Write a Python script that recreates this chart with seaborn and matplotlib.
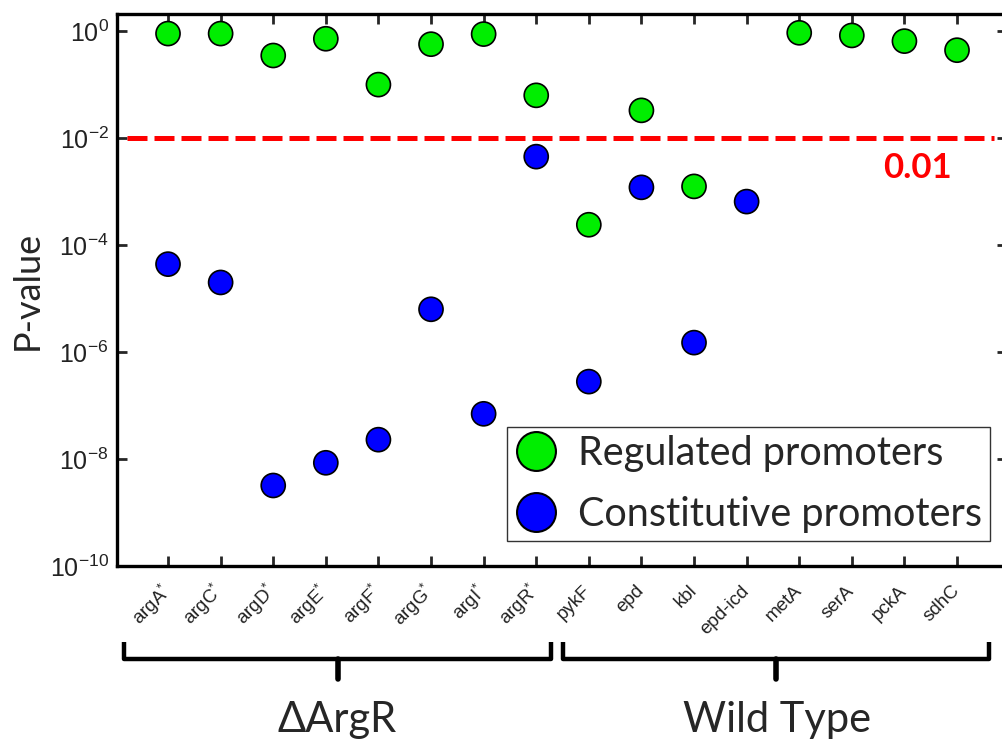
import numpy as np
import pandas as pd
import matplotlib
matplotlib.use("Agg")
import matplotlib.pyplot as plt
from matplotlib.lines import Line2D
from matplotlib.ticker import FixedLocator, FuncFormatter
import seaborn as sns

# Promoters (ΔArgR strain first, then wild type)
promoters = ["argA*", "argC*", "argD*", "argE*", "argF*", "argG*", "argI*", "argR*",
             "pykF", "epd", "kbl", "epd-icd", "metA", "serA", "pckA", "sdhC"]
tick_labels = ["argA$^{*}$", "argC$^{*}$", "argD$^{*}$", "argE$^{*}$", "argF$^{*}$",
               "argG$^{*}$", "argI$^{*}$", "argR$^{*}$",
               "pykF", "epd", "kbl", "epd-icd", "metA", "serA", "pckA", "sdhC"]

# P-values per promoter (nan = not measured)
regulated_p = [0.9, 0.9, 0.35, 0.72, 0.1, 0.57, 0.88, 0.063,
               2.4e-4, 0.033, 1.25e-3, np.nan, 0.93, 0.83, 0.65, 0.44]
constitutive_p = [4.4e-5, 2.0e-5, 3.2e-9, 8.5e-9, 2.3e-8, 6.3e-6, 7.0e-8, 4.5e-3,
                  2.8e-7, 1.2e-3, 1.5e-6, 6.5e-4, np.nan, np.nan, np.nan, np.nan]

threshold = 0.01
groups = ["ΔArgR", "Wild Type"]
series_names = ["Regulated promoters", "Constitutive promoters"]
series_colors = ["#00ee00", "#0000ff"]

sns.set_style("white")
plt.rcParams["font.family"] = ["Liberation Sans", "DejaVu Sans"]
plt.rcParams["mathtext.fontset"] = "custom"
plt.rcParams["mathtext.rm"] = "Liberation Sans"
plt.rcParams["mathtext.it"] = "Liberation Sans"
plt.rcParams["mathtext.default"] = "regular"

df = pd.DataFrame({
    "promoter": promoters * 2,
    "pos": list(range(len(promoters))) * 2,
    "p": regulated_p + constitutive_p,
    "kind": [series_names[0]] * len(promoters) + [series_names[1]] * len(promoters),
}).dropna()

W, H = 1002, 744
fig = plt.figure(figsize=(W / 100, H / 100), dpi=100)
ax = fig.add_axes([117 / W, 1 - 566 / H, (1007 - 117) / W, (566 - 14) / H])

sns.scatterplot(data=df, x="pos", y="p", hue="kind", palette=series_colors,
                hue_order=series_names, s=300, edgecolor="black", linewidth=1.2,
                legend=False, ax=ax, zorder=3)

ax.set_yscale("log")
ax.set_ylim(1e-10, 10 ** 0.32)
ax.set_xlim(-0.97, 15.95)

# threshold line
ax.axhline(threshold, xmin=0.011, xmax=0.985, color="#ff0000", lw=3.6,
           linestyle=(0, (4, 1.4)), dash_capstyle="butt", zorder=2)
ax.text(917 / W, 1 - 168 / H, "0.01", transform=fig.transFigure, color="#ff0000",
        fontsize=25, fontweight="bold", ha="center", va="center",
        family=["Lato", "DejaVu Sans"])

# axes frame and ticks
for side in ["left", "top", "bottom", "right"]:
    ax.spines[side].set_visible(True)
    ax.spines[side].set_color("black")
    ax.spines[side].set_linewidth(2.4)
ax.yaxis.set_major_locator(FixedLocator([1e-10, 1e-8, 1e-6, 1e-4, 1e-2, 1e0]))
ax.yaxis.set_minor_locator(FixedLocator([]))
ax.yaxis.set_major_formatter(FuncFormatter(lambda v, _: r"$10^{%d}$" % round(np.log10(v))))
ax.set_xticks(range(len(promoters)))
ax.set_xticklabels(tick_labels, rotation=45, ha="right", va="center",
                   rotation_mode="anchor", fontsize=13.5, color="#222222")
ax.tick_params(axis="x", direction="in", length=7, width=2, top=True, bottom=True, pad=16)
ax.tick_params(axis="y", direction="in", length=7, width=2, left=True, right=True,
               labelsize=18, labelcolor="#222222", pad=6)
ax.set_xlabel("")
ax.set_ylabel("P-value", fontsize=26, family=["Lato", "DejaVu Sans"], labelpad=4)

# legend
handles = [Line2D([], [], ls="none", marker="o", markersize=28, markerfacecolor=c,
                  markeredgecolor="black", markeredgewidth=1.5) for c in series_colors]
leg = ax.legend(handles, series_names, loc="upper left",
                bbox_to_anchor=(507 / W, 1 - 427 / H), bbox_transform=fig.transFigure,
                frameon=True, fancybox=False, edgecolor="#333333", framealpha=1,
                prop={"family": ["Lato", "DejaVu Sans"], "size": 28.5},
                handletextpad=0.55, borderpad=0.2, labelspacing=0.6, handlelength=1.05,
                borderaxespad=0)
leg.get_frame().set_linewidth(1.0)

# group brackets under the tick labels
def bracket(x0, x1, xm, y_top=642, y_bar=659, y_tip=679):
    t = fig.transFigure
    f = lambda x, y: (x / W, 1 - y / H)
    pts = [f(x0, y_top), f(x0, y_bar), f(x1, y_bar), f(x1, y_top)]
    fig.add_artist(Line2D([p[0] for p in pts], [p[1] for p in pts], transform=t,
                          color="black", lw=3.2, solid_joinstyle="round",
                          solid_capstyle="butt"))
    a, b = f(xm, y_bar), f(xm, y_tip)
    fig.add_artist(Line2D([a[0], b[0]], [a[1], b[1]], transform=t, color="black",
                          lw=4, solid_capstyle="round"))

bracket(124, 551, 338)
bracket(563, 989, 776)
fig.text(337 / W, 1 - 720 / H, groups[0], fontsize=30, ha="center", va="center",
         family=["Lato", "DejaVu Sans"])
fig.text(777 / W, 1 - 720 / H, groups[1], fontsize=30, ha="center", va="center",
         family=["Lato", "DejaVu Sans"])

fig.savefig("out.png", dpi=100)
